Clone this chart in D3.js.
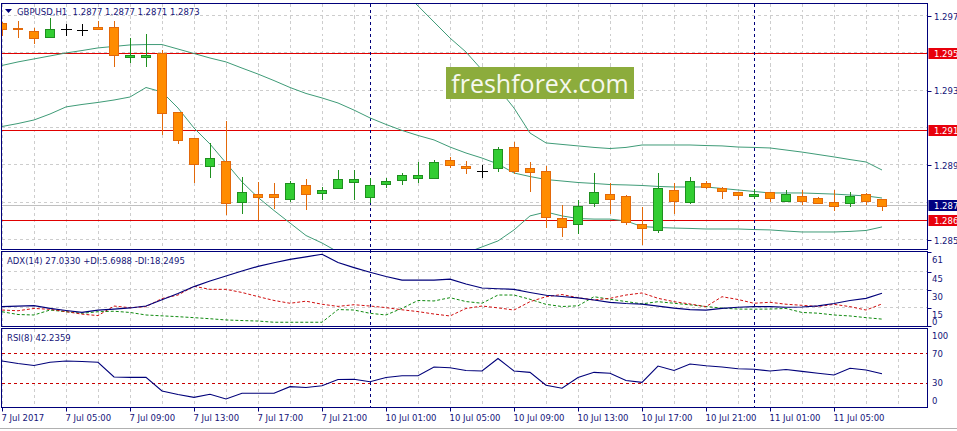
<!DOCTYPE html>
<html>
<head>
<meta charset="utf-8">
<script src="https://cdn.jsdelivr.net/npm/d3@7"></script>
<style>
html,body{margin:0;padding:0;background:#fff;overflow:hidden;}
svg{display:block;font-family:"DejaVu Sans",Verdana,sans-serif;}
</style>
</head>
<body>
<svg></svg>
<script>
// bar data, one entry per hour, first bar = 7 Jul 01:00
const barOpen  = [1.29711,1.29688,1.29670,1.29639,1.29679,1.29675,1.29689,1.29689,1.29529,1.29529,1.29550,1.29237,1.29095,1.28946,1.28975,1.28752,1.28796,1.28796,1.28771,1.28845,1.28803,1.28827,1.28862,1.28782,1.28852,1.28871,1.28884,1.28884,1.28977,1.28948,1.28921,1.28934,1.29047,1.28934,1.28921,1.28666,1.28634,1.28747,1.28795,1.28786,1.28634,1.28604,1.28816,1.28752,1.28855,1.28830,1.28806,1.28784,1.28806,1.28761,1.28784,1.28773,1.28752,1.28747,1.28795,1.2877];
const barHigh  = [1.29718,1.29725,1.29684,1.29738,1.29707,1.29706,1.29725,1.29725,1.29634,1.29652,1.29568,1.29238,1.29096,1.29068,1.29188,1.28889,1.28862,1.28857,1.28866,1.28877,1.28836,1.28925,1.28925,1.28884,1.28880,1.28907,1.28966,1.28979,1.28996,1.28975,1.28952,1.29050,1.29077,1.28966,1.28948,1.28738,1.28764,1.28911,1.28854,1.28791,1.28725,1.28911,1.28854,1.28889,1.28866,1.28836,1.28807,1.28823,1.28807,1.28818,1.28818,1.28780,1.28818,1.28806,1.28803,1.2877];
const barLow   = [1.29648,1.29639,1.29607,1.29637,1.29648,1.29648,1.29678,1.29484,1.29502,1.29482,1.29116,1.29071,1.28862,1.28886,1.28689,1.28693,1.28662,1.28723,1.28761,1.28714,1.28770,1.28826,1.28770,1.28755,1.28832,1.28850,1.28862,1.28883,1.28943,1.28907,1.28889,1.28921,1.28911,1.28814,1.28621,1.28573,1.28586,1.28734,1.28693,1.28638,1.28529,1.28591,1.28693,1.28750,1.28826,1.28773,1.28770,1.28773,1.28761,1.28760,1.28743,1.28746,1.28711,1.28734,1.28743,1.2871];
const barClose = [1.29679,1.29680,1.29631,1.29679,1.29679,1.29675,1.29679,1.29539,1.29541,1.29541,1.29229,1.29086,1.28956,1.28988,1.28747,1.28806,1.28782,1.28782,1.28857,1.28795,1.28818,1.28875,1.28875,1.28845,1.28866,1.28898,1.28898,1.28969,1.28953,1.28934,1.28921,1.29036,1.28921,1.28913,1.28672,1.28621,1.28734,1.28806,1.28771,1.28645,1.28613,1.28827,1.28761,1.28866,1.28832,1.28814,1.28793,1.28796,1.28773,1.28796,1.28761,1.28747,1.28734,1.28786,1.28761,1.2873];

// bollinger bands (upper one is above the window on the left)
const bbUpper  = [null,null,null,null,null,null,null,null,null,null,null,null,null,null,null,null,null,null,null,null,null,null,null,null,
	1.29975,1.29889,1.29804,1.29718,1.29632,1.29557,1.29461,1.29364,1.29257,1.29123,1.29070,1.29062,1.29054,1.29046,1.29040,1.29046,1.29059,1.29059,1.29059,1.29059,1.29056,1.29054,1.29048,1.29046,1.29043,1.29032,1.29021,1.29008,1.28995,1.28981,1.28968,1.28925];
const bbMiddle = [1.29485,1.29504,1.29520,1.29536,1.29552,1.29565,1.29579,1.29587,1.29595,1.29597,1.29597,1.29573,1.29549,1.29525,1.29504,1.29471,1.29439,1.29404,1.29367,1.29335,1.29311,1.29284,1.29246,1.29204,1.29169,1.29137,1.29110,1.29086,1.29048,1.29016,1.28989,1.28957,1.28909,1.28890,1.28874,1.28866,1.28858,1.28853,1.28847,1.28845,1.28842,1.28837,1.28834,1.28834,1.28834,1.28826,1.28818,1.28810,1.28802,1.28802,1.28802,1.28799,1.28796,1.28791,1.28786,1.28775];
const bbLower  = [1.29158,1.29174,1.29193,1.29225,1.29263,1.29276,1.29287,1.29300,1.29316,1.29367,1.29343,1.29257,1.29150,1.29064,1.28963,1.28861,1.28778,1.28708,1.28641,1.28574,1.28534,1.28486,1.28443,1.28400,1.28363,1.28346,1.28346,1.28379,1.28432,1.28480,1.28513,1.28545,1.28604,1.28679,1.28700,1.28679,1.28665,1.28662,1.28662,1.28652,1.28622,1.28617,1.28614,1.28612,1.28609,1.28609,1.28609,1.28606,1.28604,1.28598,1.28593,1.28593,1.28593,1.28596,1.28601,1.28620];

const adxMain  = [16.0,16.4,16.8,14.6,12.8,11.2,13.1,14.0,14.9,16.5,21.7,26.9,32.6,37.2,41.3,45.5,49.3,52.3,55.0,57.2,59.3,52.5,48.3,44.4,40.9,38.0,38.0,38.0,38.8,34.7,31.4,30.8,30.3,27.7,25.4,24.4,23.3,21.5,19.6,18.6,18.0,16.5,14.7,13.6,13.2,14.6,15.5,16.0,16.0,15.5,15.7,16.7,18.6,21.1,22.8,27.03];
const plusDI   = [11.8,9.5,9.1,13.2,11.8,10.5,11.8,12.2,11.2,9.1,8.4,7.7,6.9,6.0,5.0,4.5,4.1,3.1,3.1,3.1,3.1,13.6,13.2,10.5,9.1,14.6,21.1,20.7,23.4,20.2,18.8,25.6,25.6,22.1,17.9,16.1,16.7,24.2,22.1,20.2,18.3,20.1,18.8,17.5,16.1,14.8,14.0,13.9,14.0,14.5,11.2,10.6,9.1,8.3,6.9,5.70];
const minusDI  = [13.2,12.6,14.5,13.8,11.9,9.8,8.6,16.5,15.1,16.0,22.7,25.6,32.8,30.3,30.3,27.7,24.3,21.1,18.8,20.5,18.0,16.2,17.6,16.5,15.2,13.4,11.9,9.9,8.3,14.5,16.5,15.0,13.2,20.1,24.2,26.0,23.4,21.5,22.9,25.6,27.3,22.9,20.1,18.2,16.0,24.2,21.9,18.8,19.6,18.0,17.1,16.1,17.9,16.0,13.2,18.25];
const rsiValues = [59.5,56.1,53.4,57.8,59.5,58.8,57.8,37.8,37.3,37.3,18.7,13.9,10.1,14.2,7.8,15.6,15.6,15.6,24.6,23.5,25.9,34.4,34.6,31.4,37.1,39.5,39.5,51.4,50.4,46.6,45.9,62.9,45.9,44.1,26.5,22.4,37.1,44.1,42.8,33.0,30.5,52.7,46.6,55.4,53.0,51.4,48.9,48.2,45.9,48.0,45.4,42.9,40.5,49.6,47.3,42.24];

const timeTickBars = [0,4,8,12,16,20,24,28,32,36,40,44,48,52];
const timeLabels = ['7 Jul 2017','7 Jul 05:00','7 Jul 09:00','7 Jul 13:00','7 Jul 17:00','7 Jul 21:00','10 Jul 01:00','10 Jul 05:00','10 Jul 09:00','10 Jul 13:00','10 Jul 17:00','10 Jul 21:00','11 Jul 01:00','11 Jul 05:00'];
const separatorBars = [23,47];

const priceTicks = [1.2975,1.2935,1.2895,1.2855];
const gridPrices = [1.2975,1.2955,1.2935,1.2915,1.2895,1.2875,1.2855];
const levelPrices = [1.2955,1.2914,1.28656];
const currentPrice = 1.2873;
const adxTicks = [61,45,30,15,0];
const adxGrid = [45,30,15];
const rsiTicks = [100,70,30,0];
const rsiLevels = [70,30];

const headerText = 'GBPUSD,H1  1.2877 1.2877 1.2871 1.2873';
const adxText = 'ADX(14) 27.0330 +DI:5.6988 -DI:18.2495';
const rsiText = 'RSI(8) 42.2359';

// layout
const panelLeft = 1.5;
const panelRight = 927.5;
const mainTop = 3.5, mainBottom = 249.5;
const adxTop = 251.5, adxBottom = 326.5;
const rsiTop = 328.5, rsiBottom = 407.5;
const labelX = 934;
const fontSize = 8.5;

const navy = '#00007a';
const textColor = '#141478';
const gridColor = '#cdcdcd';
const levelRed = '#e00000';
const bandColor = '#3f9b77';
const upFill = '#32cd32', upStroke = '#1f8f1f';
const downFill = '#ff8c00', downStroke = '#e2690a';

var svg, layer, x, y, yAdx, yRsi;

function crisp(v){ return Math.round(v) + 0.5; }

function drawGrid(){
	var g = layer[0];
	var gridBars = d3.range(0, 57, 2);
	[[mainTop, mainBottom],[adxTop, adxBottom],[rsiTop, rsiBottom]].forEach(p => {
		g.selectAll(null).data(gridBars).enter().append('line')
		.attr('x1', d => crisp(x(d))).attr('x2', d => crisp(x(d)))
		.attr('y1', p[0]).attr('y2', p[1])
		.style('stroke', gridColor).style('stroke-dasharray', '3,3');
	});
	g.selectAll(null).data(gridPrices).enter().append('line')
	.attr('x1', panelLeft).attr('x2', panelRight)
	.attr('y1', d => Math.round(y(d)) - 0.5).attr('y2', d => Math.round(y(d)) - 0.5)
	.style('stroke', gridColor).style('stroke-dasharray', '3,3');
	g.selectAll(null).data(adxGrid).enter().append('line')
	.attr('x1', panelLeft).attr('x2', panelRight)
	.attr('y1', d => Math.round(yAdx(d)) - 0.5).attr('y2', d => Math.round(yAdx(d)) - 0.5)
	.style('stroke', gridColor).style('stroke-dasharray', '3,3');

	// current price line
	g.append('line')
	.attr('x1', panelLeft).attr('x2', panelRight)
	.attr('y1', Math.floor(y(currentPrice)) - 0.5).attr('y2', Math.floor(y(currentPrice)) - 0.5)
	.style('stroke', '#c0c0c0');

	// horizontal levels
	g.selectAll(null).data(levelPrices).enter().append('line')
	.attr('x1', panelLeft).attr('x2', panelRight)
	.attr('y1', d => crisp(y(d))).attr('y2', d => crisp(y(d)))
	.style('stroke', levelRed);

	// rsi levels
	g.selectAll(null).data(rsiLevels).enter().append('line')
	.attr('x1', panelLeft).attr('x2', panelRight)
	.attr('y1', d => crisp(yRsi(d))).attr('y2', d => crisp(yRsi(d)))
	.style('stroke', '#c80000').style('stroke-dasharray', '3,3');

	// day separators
	g.selectAll(null).data(separatorBars).enter().append('line')
	.attr('x1', d => crisp(x(d))).attr('x2', d => crisp(x(d)))
	.attr('y1', mainTop).attr('y2', rsiBottom)
	.style('stroke', navy).style('stroke-dasharray', '3,3');
}

function drawIndicators(){
	var idx = d3.range(barClose.length);
	var main = layer[1].append('g').attr('clip-path', 'url(#clipMain)');
	[bbUpper, bbMiddle, bbLower].forEach(arr => {
		main.append('path')
		.attr('d', d3.line().defined(i => arr[i] != null).x(i => x(i)).y(i => y(arr[i]))(idx))
		.style('fill', 'none').style('stroke', bandColor).style('stroke-width', 1);
	});

	var adx = layer[1].append('g').attr('clip-path', 'url(#clipAdx)');
	adx.append('path')
	.attr('d', d3.line().x(i => x(i)).y(i => yAdx(plusDI[i]))(idx))
	.style('fill', 'none').style('stroke', '#108a10').style('stroke-dasharray', '3,2');
	adx.append('path')
	.attr('d', d3.line().x(i => x(i)).y(i => yAdx(minusDI[i]))(idx))
	.style('fill', 'none').style('stroke', '#d01010').style('stroke-dasharray', '3,2');
	adx.append('path')
	.attr('d', d3.line().x(i => x(i)).y(i => yAdx(adxMain[i]))(idx))
	.style('fill', 'none').style('stroke', navy).style('stroke-width', 1.2);

	var rsi = layer[1].append('g').attr('clip-path', 'url(#clipRsi)');
	rsi.append('path')
	.attr('d', d3.line().x(i => x(i)).y(i => yRsi(rsiValues[i]))(idx))
	.style('fill', 'none').style('stroke', navy).style('stroke-width', 1.1);
}

function drawCandles(){
	var bars = barClose.map((c, i) => ({i: i, o: barOpen[i], h: barHigh[i], l: barLow[i], c: c}));
	var g = layer[2].append('g').attr('clip-path', 'url(#clipMain)');
	var wickColor = d => d.c > d.o ? upStroke : (d.c < d.o ? downStroke : '#000');

	g.selectAll('line.wick').data(bars).enter().append('line').classed('wick', true)
	.attr('x1', d => crisp(x(d.i))).attr('x2', d => crisp(x(d.i)))
	.attr('y1', d => Math.round(y(d.h))).attr('y2', d => Math.round(y(d.l)) + 1)
	.style('stroke', wickColor);

	g.selectAll('rect.body').data(bars.filter(d => d.c != d.o)).enter().append('rect').classed('body', true)
	.attr('x', d => Math.round(x(d.i)) - 4.5)
	.attr('y', d => Math.round(y(Math.max(d.o, d.c))) + 0.5)
	.attr('width', 9)
	.attr('height', d => Math.max(1, Math.round(y(Math.min(d.o, d.c))) - Math.round(y(Math.max(d.o, d.c)))))
	.style('fill', d => d.c > d.o ? upFill : downFill)
	.style('stroke', d => d.c > d.o ? upStroke : downStroke);

	g.selectAll('line.doji').data(bars.filter(d => d.c == d.o)).enter().append('line').classed('doji', true)
	.attr('x1', d => Math.round(x(d.i)) - 5).attr('x2', d => Math.round(x(d.i)) + 6)
	.attr('y1', d => crisp(y(d.c))).attr('y2', d => crisp(y(d.c)))
	.style('stroke', '#000');
}

function drawFrames(){
	var g = layer[3];
	[[mainTop, mainBottom],[adxTop, adxBottom],[rsiTop, rsiBottom]].forEach(p => {
		g.append('rect')
		.attr('x', panelLeft).attr('y', p[0])
		.attr('width', panelRight - panelLeft).attr('height', p[1] - p[0])
		.style('fill', 'none').style('stroke', navy);
	});
	g.append('line')
	.attr('x1', 0).attr('x2', 957).attr('y1', 428.5).attr('y2', 428.5)
	.style('stroke', '#b0b0b0');
}

function drawAxes(){
	var g = layer[4];
	var t = (sel) => sel.style('font-size', fontSize + 'px').style('fill', textColor);

	// price axis
	g.selectAll(null).data(priceTicks).enter().append('line')
	.attr('x1', panelRight).attr('x2', panelRight + 4)
	.attr('y1', d => crisp(y(d))).attr('y2', d => crisp(y(d)))
	.style('stroke', navy);
	t(g.selectAll(null).data(priceTicks).enter().append('text')
	.attr('x', labelX).attr('y', d => y(d) + 3.5)
	.text(d => d.toFixed(4)));

	// level tags
	g.selectAll(null).data(levelPrices).enter().append('rect')
	.attr('x', panelRight + 1).attr('y', d => Math.round(y(d)) - 5)
	.attr('width', 40).attr('height', 11)
	.style('fill', '#e8000c');
	g.selectAll(null).data(levelPrices).enter().append('text')
	.attr('x', labelX).attr('y', d => Math.round(y(d)) + 4)
	.style('font-size', fontSize + 'px').style('fill', '#fff')
	.text(d => d.toFixed(4));
	g.append('rect')
	.attr('x', panelRight + 1).attr('y', Math.round(y(currentPrice)) - 6)
	.attr('width', 40).attr('height', 11)
	.style('fill', '#000080');
	g.append('text')
	.attr('x', labelX).attr('y', Math.round(y(currentPrice)) + 3)
	.style('font-size', fontSize + 'px').style('fill', '#fff')
	.text(currentPrice.toFixed(4));

	// adx axis
	g.selectAll(null).data(adxTicks).enter().append('line')
	.attr('x1', panelRight).attr('x2', panelRight + 4)
	.attr('y1', d => crisp(yAdx(d))).attr('y2', d => crisp(yAdx(d)))
	.style('stroke', navy);
	t(g.selectAll(null).data(adxTicks).enter().append('text')
	.attr('x', labelX - 2).attr('y', d => Math.max(258, Math.min(321, yAdx(d) + 7)) + 3.5)
	.text(d => d));

	// rsi axis
	t(g.selectAll(null).data(rsiTicks).enter().append('text')
	.attr('x', labelX - 2).attr('y', d => Math.max(335, Math.min(400, yRsi(d))) + 3.5)
	.text(d => d));

	// time axis
	g.selectAll(null).data(timeTickBars).enter().append('line')
	.attr('x1', d => crisp(x(d))).attr('x2', d => crisp(x(d)))
	.attr('y1', rsiBottom).attr('y2', rsiBottom + 4)
	.style('stroke', navy);
	t(g.selectAll(null).data(timeTickBars).enter().append('text')
	.attr('x', d => x(d) - 0.5).attr('y', 420.5)
	.text((d, i) => timeLabels[i]));

	// panel titles
	g.append('polygon').attr('points', '5,9 12,9 8.5,13').style('fill', navy);
	t(g.append('text').attr('x', 17).attr('y', 15).attr('xml:space', 'preserve').text(headerText));
	t(g.append('text').attr('x', 7).attr('y', 264).text(adxText));
	t(g.append('text').attr('x', 7).attr('y', 341).text(rsiText));

	// watermark
	g.append('rect').attr('x', 446).attr('y', 67).attr('width', 188).attr('height', 32)
	.style('fill', '#8cac3c');
	g.append('text').attr('x', 540).attr('y', 92.5)
	.attr('text-anchor', 'middle')
	.style('font-family', '"Open Sans", sans-serif').style('font-size', '25px')
	.style('fill', '#f6f8ee')
	.text('freshforex.com');
}

function init(){
	svg = d3.select('svg').attr('width', 957).attr('height', 431)
	.style('shape-rendering', 'crispEdges');

	x = d3.scaleLinear().domain([0, 55]).range([2, 882]);
	y = d3.scaleLinear().domain([1.2975, 1.2855]).range([16, 240]);
	yAdx = d3.scaleLinear().domain([0, 61]).range([326, 252.2]);
	yRsi = d3.scaleLinear().domain([0, 100]).range([404.75, 331.25]);

	var defs = svg.append('defs');
	[['clipMain', mainTop, mainBottom],['clipAdx', adxTop, adxBottom],['clipRsi', rsiTop, rsiBottom]].forEach(c => {
		defs.append('clipPath').attr('id', c[0]).append('rect')
		.attr('x', panelLeft).attr('y', c[1]).attr('width', panelRight - panelLeft).attr('height', c[2] - c[1]);
	});

	layer = [];
	for(var i = 0; i < 5; i++){
		layer.push(svg.append('g'));
	}
	layer[1].style('shape-rendering', 'auto');
	layer[4].style('shape-rendering', 'auto');

	drawGrid();
	drawIndicators();
	drawCandles();
	drawFrames();
	drawAxes();
}

init();
</script>
</body>
</html>
